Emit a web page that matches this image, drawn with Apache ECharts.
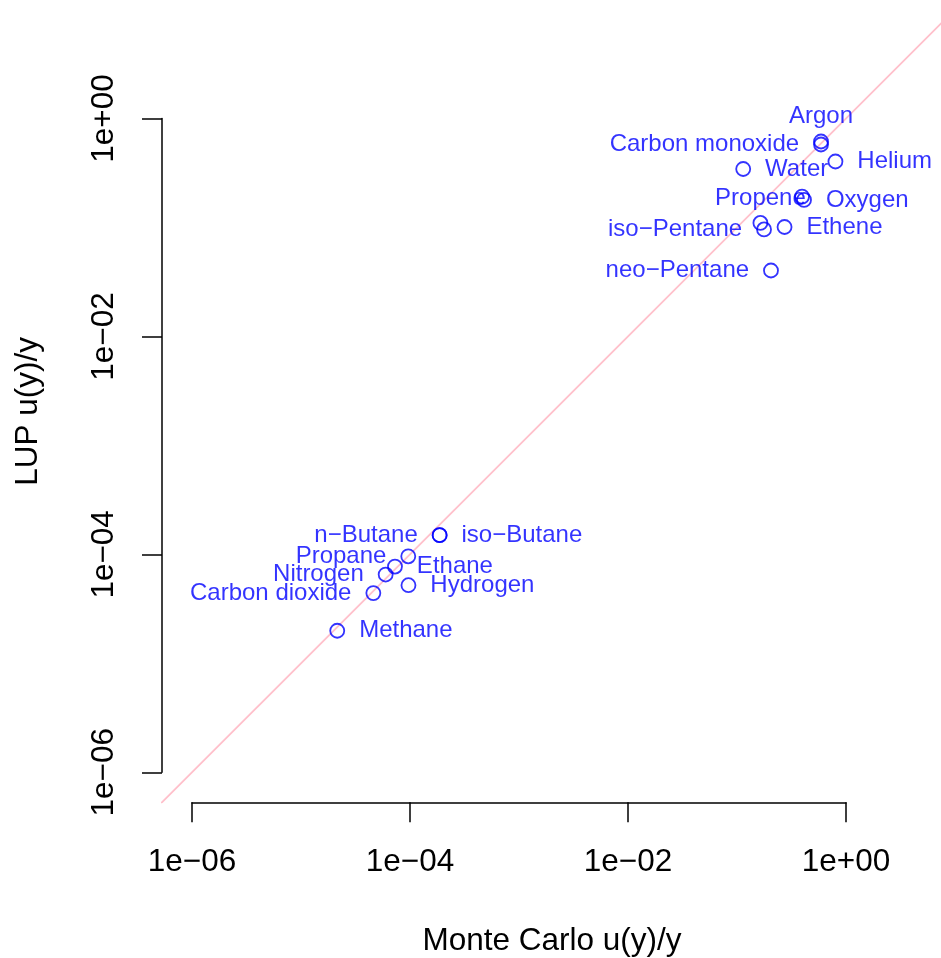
<!DOCTYPE html>
<html>
<head>
<meta charset="utf-8">
<script src="https://cdn.jsdelivr.net/npm/echarts@6/dist/echarts.min.js"></script>
<style>
html, body { margin: 0; padding: 0; background: #ffffff; }
#chart { width: 941px; height: 958px; }
</style>
</head>
<body>
<div id="chart"></div>
<script>
// ---- data ----
const compounds = [
  'Argon', 'Carbon monoxide', 'Helium', 'Water', 'Oxygen', '',
  'Propene', 'iso\u2212Pentane', 'Ethene', 'neo\u2212Pentane',
  'n\u2212Butane', 'iso\u2212Butane', 'Propane', 'Ethane', 'Nitrogen',
  'Hydrogen', 'Carbon dioxide', 'Methane'
];
const monteCarlo = [
  0.590, 0.590, 0.80, 0.114, 0.412, 0.395,
  0.164, 0.177, 0.273, 0.205,
  1.87e-4, 1.87e-4, 9.64e-5, 7.28e-5, 5.98e-5,
  9.68e-5, 4.61e-5, 2.15e-5
];
const lup = [
  0.615, 0.577, 0.403, 0.344, 0.179, 0.192,
  0.110, 0.0959, 0.101, 0.0403,
  1.50e-4, 1.50e-4, 9.6e-5, 7.73e-5, 6.53e-5,
  5.21e-5, 4.41e-5, 1.99e-5
];
const labelSide = [
  'top', 'left', 'right', 'right', 'right', 'none',
  'top', 'left', 'right', 'left',
  'left', 'right', 'left', 'right', 'left',
  'right', 'left', 'right'
];
const tickExponents = [-6, -4, -2, 0];
const tickLabels = ['1e\u221206', '1e\u221204', '1e\u221202', '1e+00'];
const axisRange = [1e-6, 1];
// y = x reference line (clipped to the plot region)
const refLine = [1e-7, 100];
const xTitle = 'Monte Carlo u(y)/y';
const yTitle = 'LUP u(y)/y';

// ---- layout & styles ----
const W = 941, H = 958;
const G = { left: 192, right: 95, top: 118.5, bottom: 185.7 };  // 1e-6 .. 1e+0 box
const AXIS_OFFSET = 30;
const decX = (W - G.left - G.right) / 6;
const decY = (H - G.top - G.bottom) / 6;
const FONT = 'Liberation Sans, Arial, Helvetica, sans-serif';
const BLUE = '#0000ff';
const AXIS_FS = 31.5;

const chart = echarts.init(document.getElementById('chart'), null, { renderer: 'canvas' });

const pointData = compounds.map((name, i) => {
  const side = labelSide[i];
  return {
    name: name,
    value: [monteCarlo[i], lup[i]],
    label: side === 'none'
      ? { show: false }
      : { show: true, position: side, distance: side === 'top' ? 5 : 14 }
  };
});

const refLineData = refLine.map(v => [Math.log10(v), Math.log10(v)]);

const tickFmt = v => {
  const k = tickExponents.indexOf(Math.round(v));
  return k >= 0 ? tickLabels[k] : '';
};

const axisLineStyle = { color: '#000000', width: 1.5 };

const option = {
  animation: false,
  backgroundColor: '#ffffff',
  grid: [
    { // axes box (1e-6 .. 1e+0)
      left: G.left, right: G.right, top: G.top, bottom: G.bottom,
      containLabel: false, outerBoundsMode: 'none'
    },
    { // whole plot region (for the clipped reference line)
      left: G.left - AXIS_OFFSET, right: 0, top: 0, bottom: G.bottom - AXIS_OFFSET,
      containLabel: false, outerBoundsMode: 'none'
    }
  ],
  xAxis: [
    { // data axis (log scale)
      gridIndex: 0, type: 'log', logBase: 10, min: axisRange[0], max: axisRange[1],
      position: 'top', show: false
    },
    { // drawn axis in decades
      gridIndex: 0, type: 'value', min: -6, max: 0, interval: 2, position: 'bottom', offset: AXIS_OFFSET,
      axisLine: { show: true, onZero: false, lineStyle: axisLineStyle },
      axisTick: { show: true, length: 20, lineStyle: axisLineStyle },
      splitLine: { show: false },
      axisLabel: { show: true, margin: 44, fontSize: AXIS_FS, fontFamily: FONT, color: '#000', formatter: tickFmt },
      name: xTitle, nameLocation: 'middle', nameGap: 123,
      nameTextStyle: { fontSize: AXIS_FS, fontFamily: FONT, color: '#000', padding: [0, 0, 0, 66] }
    },
    { // plot-region axis (decades), hidden
      gridIndex: 1, type: 'value', show: false,
      min: -6 - AXIS_OFFSET / decX, max: G.right / decX
    }
  ],
  yAxis: [
    {
      gridIndex: 0, type: 'log', logBase: 10, min: axisRange[0], max: axisRange[1],
      position: 'right', show: false
    },
    {
      gridIndex: 0, type: 'value', min: -6, max: 0, interval: 2, position: 'left', offset: AXIS_OFFSET,
      axisLine: { show: true, onZero: false, lineStyle: axisLineStyle },
      axisTick: { show: true, length: 20, lineStyle: axisLineStyle },
      splitLine: { show: false },
      axisLabel: { show: true, rotate: 90, margin: 42, fontSize: AXIS_FS, fontFamily: FONT, color: '#000', formatter: tickFmt },
      name: yTitle, nameLocation: 'middle', nameGap: 118, nameRotate: 90,
      nameTextStyle: { fontSize: AXIS_FS, fontFamily: FONT, color: '#000', padding: [0, 0, 0, 68] }
    },
    {
      gridIndex: 1, type: 'value', show: false,
      min: -6 - AXIS_OFFSET / decY, max: G.top / decY
    }
  ],
  series: [
    {
      type: 'line',
      xAxisIndex: 2, yAxisIndex: 2,
      data: refLineData,
      clip: true,
      symbol: 'none',
      lineStyle: { color: '#ffc0cb', width: 1.8 },
      silent: true,
      z: 1
    },
    {
      type: 'scatter',
      xAxisIndex: 0, yAxisIndex: 0,
      data: pointData,
      symbol: 'circle',
      symbolSize: 14,
      clip: false,
      itemStyle: { color: 'rgba(0,0,0,0)', borderColor: BLUE, borderWidth: 1.8 },
      label: { formatter: '{b}', color: BLUE, fontSize: 24, fontFamily: FONT },
      emphasis: { disabled: true },
      silent: true,
      z: 3
    }
  ]
};

chart.setOption(option);
</script>
</body>
</html>
